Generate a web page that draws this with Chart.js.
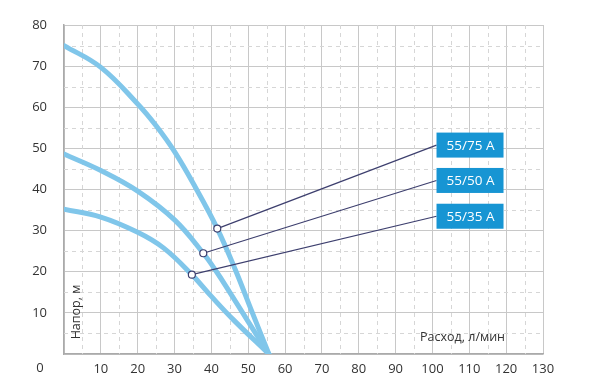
<!DOCTYPE html>
<html>
<head>
<meta charset="utf-8">
<script src="https://cdn.jsdelivr.net/npm/chart.js@4.4.0/dist/chart.umd.min.js"></script>
<style>
  html, body { margin: 0; padding: 0; background: #fff; }
  #wrap { width: 600px; height: 389px; }
</style>
</head>
<body>
<div id="wrap"><canvas id="mycanvas" width="600" height="389"></canvas></div>
<script>
// pump curves, flow (l/min) vs head (m)
var flow75 = [0, 10, 20, 25, 30, 35.8, 41.6, 46.5, 51, 55.6];
var head75 = [75, 69.7, 60.8, 55.5, 49.2, 40.3, 30.5, 20.5, 10.3, 0];
var flow50 = [0, 10, 20, 30, 37.8, 41.4, 45, 48.5, 52, 55.6];
var head50 = [48.6, 44.6, 39.6, 32.6, 24.5, 20, 15, 10, 5, 0];
var flow35 = [0, 10, 20, 27, 34.7, 40, 46, 55.6];
var head35 = [35.2, 33.3, 29.6, 25.8, 19.3, 14, 8.3, 0];

// callouts: point on curve -> label box
var labelNames = ["55/75 A", "55/50 A", "55/35 A"];
var markX = [41.6, 37.8, 34.7];
var markY = [30.5, 24.5, 19.3];
var boxX = [101.1, 101.1, 101.1];
var boxY = [50.8, 42.2, 33.5];

var xMax = 130, yMax = 80;
var xTitle = "Расход, л/мин";
var yTitle = "Напор, м";

var FONT = "'Open Sans', sans-serif";
var curveColor = "#80c6ea";
var lineColor = "#3d3f6e";
var boxColor = "#1795d3";

function pts(xs, ys) {
    var out = [];
    for (var i = 0; i < xs.length; i++) out.push({x: xs[i], y: ys[i]});
    return out;
}

var datasets = [];
for (var i = 0; i < labelNames.length; i++) {
    datasets.push({
        label: labelNames[i] + " line",
        data: pts([markX[i], boxX[i]], [markY[i], boxY[i]]),
        borderColor: lineColor,
        borderWidth: 1.2,
        pointRadius: [3.5, 0],
        pointBackgroundColor: "#fff",
        pointBorderColor: lineColor,
        pointBorderWidth: 1.2,
        tension: 0
    });
}
[[flow75, head75], [flow50, head50], [flow35, head35]].forEach(function(c) {
    datasets.push({
        label: "curve",
        data: pts(c[0], c[1]),
        borderColor: curveColor,
        borderWidth: 5,
        pointRadius: 0,
        tension: 0.4,
        borderCapStyle: "round"
    });
});

var extras = {
    id: "extras",
    beforeDatasetsDraw: function(chart) {
        var ctx = chart.ctx, xs = chart.scales.x, ys = chart.scales.y, a = chart.chartArea;
        ctx.save();
        ctx.strokeStyle = "#d6d6d6";
        ctx.lineWidth = 1;
        ctx.setLineDash([4, 4]);
        for (var v = 5; v < xMax; v += 10) {
            var px = Math.round(xs.getPixelForValue(v)) + 0.5;
            ctx.beginPath(); ctx.moveTo(px, a.top); ctx.lineTo(px, a.bottom); ctx.stroke();
        }
        for (var w = 5; w < yMax; w += 10) {
            var py = Math.round(ys.getPixelForValue(w)) + 0.5;
            ctx.beginPath(); ctx.moveTo(a.left, py); ctx.lineTo(a.right, py); ctx.stroke();
        }
        ctx.setLineDash([]);
        // axis titles
        ctx.fillStyle = "#333";
        ctx.font = "12.5px " + FONT;
        ctx.textAlign = "right";
        ctx.textBaseline = "middle";
        ctx.fillText(xTitle, a.right - 38, a.bottom - 17);
        ctx.translate(a.left + 12, a.bottom - 42);
        ctx.rotate(-Math.PI / 2);
        ctx.textAlign = "center";
        ctx.fillText(yTitle, 0, 0);
        ctx.restore();
    },
    afterDatasetsDraw: function(chart) {
        var ctx = chart.ctx, xs = chart.scales.x, ys = chart.scales.y, a = chart.chartArea;
        ctx.save();
        for (var i = 0; i < labelNames.length; i++) {
            var bx = xs.getPixelForValue(boxX[i]);
            var by = ys.getPixelForValue(boxY[i]);
            ctx.fillStyle = boxColor;
            ctx.fillRect(bx, by - 12.5, 67, 25);
            ctx.fillStyle = "#fff";
            ctx.font = "13.5px " + FONT;
            ctx.textAlign = "center";
            ctx.textBaseline = "middle";
            ctx.fillText(labelNames[i], bx + 34, by + 1);
        }
        // shared origin label
        ctx.fillStyle = "#333";
        ctx.font = "13px " + FONT;
        ctx.textAlign = "center";
        ctx.textBaseline = "middle";
        ctx.fillText("0", a.left - 24, a.bottom + 14);
        ctx.restore();
    }
};

var ctx = document.getElementById("mycanvas");
new Chart(ctx, {
    type: "line",
    data: { datasets: datasets },
    plugins: [extras],
    options: {
        responsive: false,
        animation: false,
        layout: { padding: { left: 0, top: 25, right: 57, bottom: 0 } },
        plugins: { legend: { display: false }, tooltip: { enabled: false } },
        scales: {
            x: {
                type: "linear", min: 0, max: xMax,
                afterFit: function(s) { s.height = 35; },
                ticks: {
                    stepSize: 10, padding: 7, color: "#333",
                    font: { family: FONT, size: 13 },
                    maxRotation: 0,
                    callback: function(v) { return v === 0 ? "" : v; }
                },
                grid: { color: "#c8c8c8", lineWidth: 1, drawTicks: false },
                border: { color: "#aaa", width: 1.5 }
            },
            y: {
                type: "linear", min: 0, max: yMax,
                afterFit: function(s) { s.width = 64; },
                ticks: {
                    stepSize: 10, padding: 17, color: "#333",
                    font: { family: FONT, size: 13 },
                    callback: function(v) { return v === 0 ? "" : v; }
                },
                grid: { color: "#c8c8c8", lineWidth: 1, drawTicks: false },
                border: { color: "#aaa", width: 1.5 }
            }
        }
    }
});
</script>
</body>
</html>
